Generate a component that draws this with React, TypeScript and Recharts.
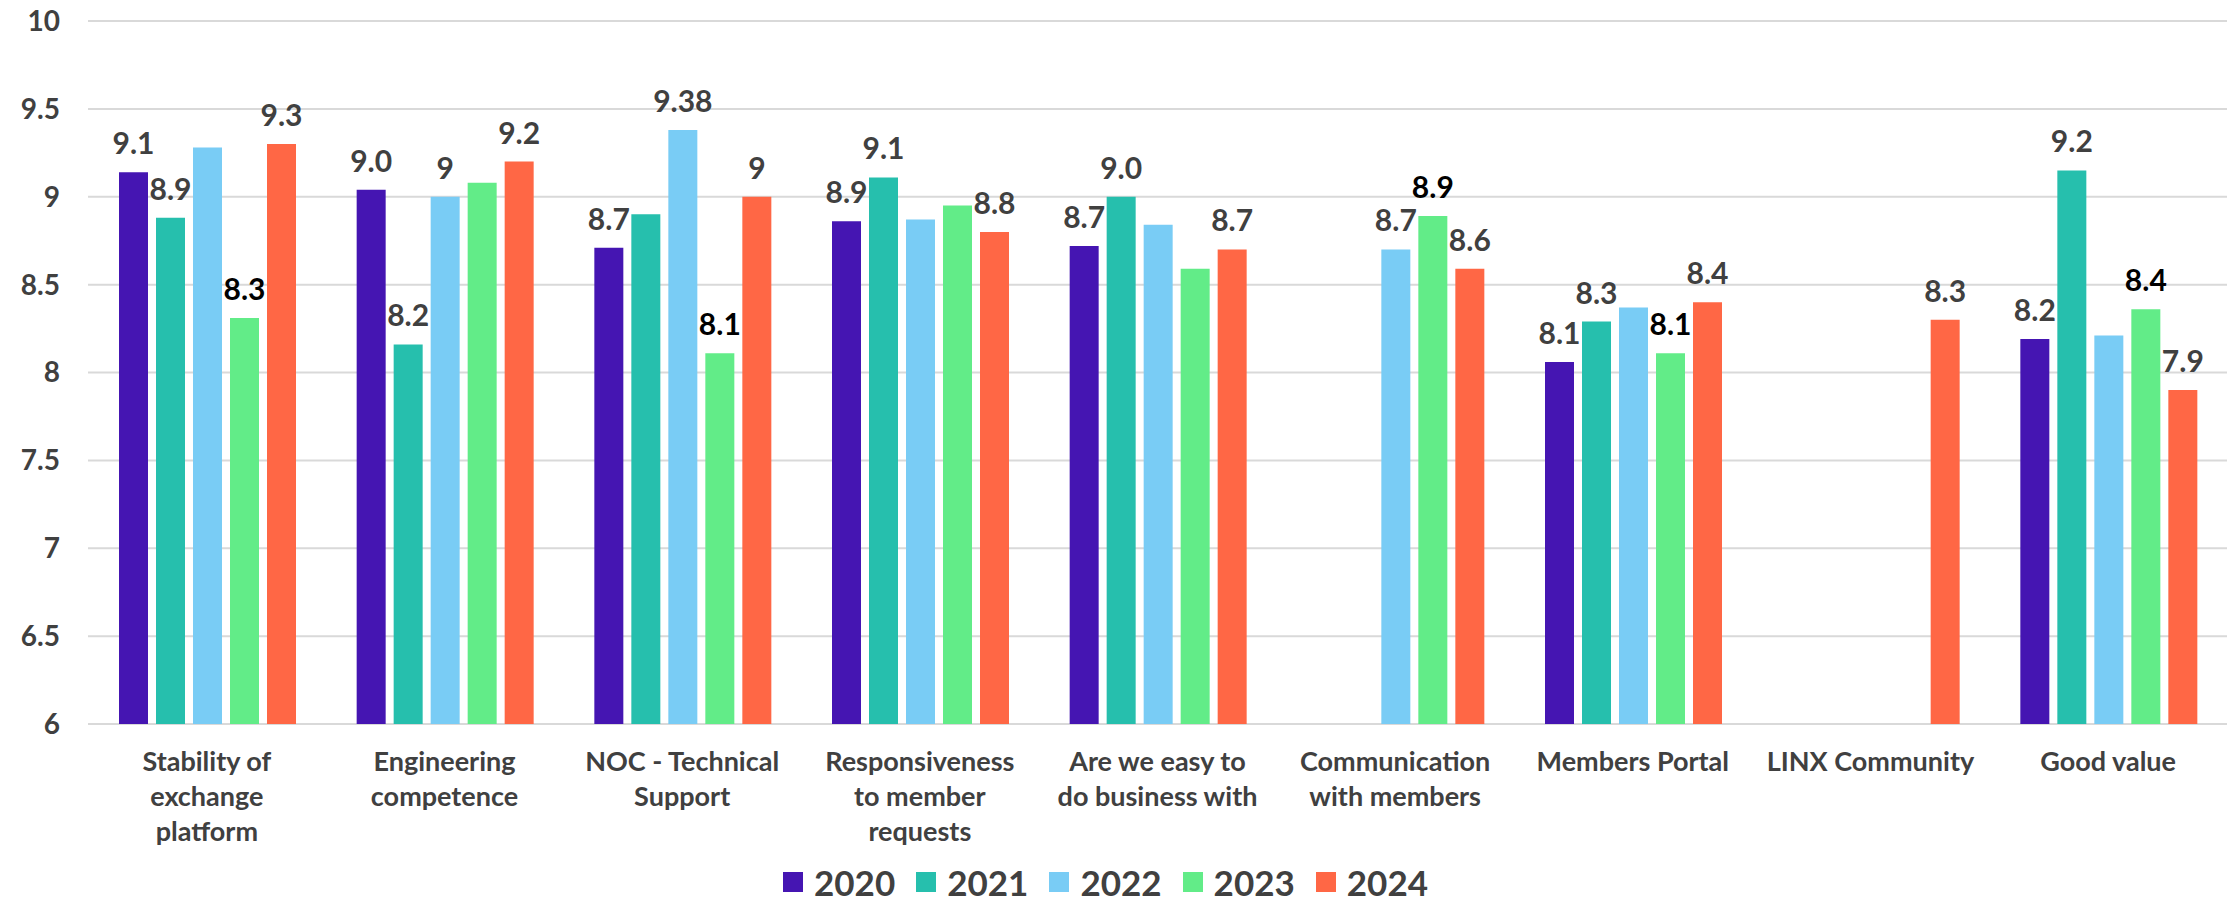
import React from "react";
import {Bar, BarChart, CartesianGrid, LabelList, Legend, XAxis, YAxis} from "recharts";

const categories = [
  "Stability of\nexchange\nplatform",
  "Engineering\ncompetence",
  "NOC - Technical\nSupport",
  "Responsiveness\nto member\nrequests",
  "Are we easy to\ndo business with",
  "Communication\nwith members",
  "Members Portal",
  "LINX Community",
  "Good value",
]

const years = ["2020", "2021", "2022", "2023", "2024"]

const values2020 = [9.14, 9.04, 8.71, 8.86, 8.72, null, 8.06, null, 8.19]
const values2021 = [8.88, 8.16, 8.90, 9.11, 9.00, null, 8.29, null, 9.15]
const values2022 = [9.28, 9.00, 9.38, 8.87, 8.84, 8.70, 8.37, null, 8.21]
const values2023 = [8.31, 9.08, 8.11, 8.95, 8.59, 8.89, 8.11, null, 8.36]
const values2024 = [9.30, 9.20, 9.00, 8.80, 8.70, 8.59, 8.40, 8.30, 7.90]

const labels2020 = ["9.1", "9.0", "8.7", "8.9", "8.7", "", "8.1", "", "8.2"]
const labels2021 = ["8.9", "8.2", "", "9.1", "9.0", "", "8.3", "", "9.2"]
const labels2022 = ["", "9", "9.38", "", "", "8.7", "", "", ""]
const labels2023 = ["8.3", "", "8.1", "", "", "8.9", "8.1", "", "8.4"]
const labels2024 = ["9.3", "9.2", "9", "8.8", "8.7", "8.6", "8.4", "8.3", "7.9"]

const yTicks = [6, 6.5, 7, 7.5, 8, 8.5, 9, 9.5, 10]

const seriesValues = [values2020, values2021, values2022, values2023, values2024]
const seriesLabels = [labels2020, labels2021, labels2022, labels2023, labels2024]
const colors = ["#4515B2", "#26BFAD", "#79CCF5", "#62EC88", "#FF6745"]
const labelColors = ["#404040", "#404040", "#404040", "#000000", "#404040"]

const FONT = "Lato, 'Open Sans', sans-serif"
const TEXT = "#404040"

// one row per category, value and label text for each year
const chartData = categories.map((name, i) => {
  const row: Record<string, string | number | null> = {name}
  years.forEach((y, s) => {
    row[y] = seriesValues[s][i]
    row["label" + y] = seriesLabels[s][i]
  })
  return row
})

function CategoryTick(props: any) {
  const {x, y, payload} = props
  const lines = String(payload.value).split("\n")
  return (
    <text x={x} y={y + 47} textAnchor="middle" fill={TEXT}
          style={{fontFamily: FONT, fontSize: 27, fontWeight: 700}}>
      {lines.map((line, i) => (
        <tspan key={i} x={x} dy={i === 0 ? 0 : 35}>{line}</tspan>
      ))}
    </text>
  )
}

function makeLabel(color: string) {
  return (props: any) => {
    const {x, y, width, value} = props
    if (!value) return null
    return (
      <text x={x + width / 2} y={y - 18} textAnchor="middle" fill={color}
            style={{fontFamily: FONT, fontSize: 30, fontWeight: 700}}>
        {value}
      </text>
    )
  }
}

function LegendBox(props: any) {
  const {payload} = props
  return (
    <div style={{height: 40, display: "flex", alignItems: "center", paddingLeft: 783}}>
      {(payload ?? []).map((item: any) => (
        <div key={item.value} style={{display: "flex", alignItems: "center", marginRight: 21}}>
          <div style={{width: 20, height: 20, background: item.color, marginRight: 11}}/>
          <span style={{fontFamily: FONT, fontSize: 35, fontWeight: 700, color: TEXT}}>{item.value}</span>
        </div>
      ))}
    </div>
  )
}

export default function App() {
  return (
    <div style={{position: "absolute", left: 0, top: 0, background: "#fff"}}>
      <BarChart width={2227} height={902} data={chartData}
                margin={{top: 21, right: 0, bottom: 0, left: 0}}
                barCategoryGap={31} barGap={8}>
        <CartesianGrid vertical={false} stroke="#D9D9D9" strokeWidth={2}/>
        <XAxis dataKey="name" height={138} axisLine={false} tickLine={false}
               tickSize={0} tickMargin={0} interval={0} tick={<CategoryTick/>}/>
        <YAxis width={88} domain={[6, 10]} ticks={yTicks} axisLine={false} tickLine={false}
               tickSize={0} tickMargin={28}
               tick={{fill: TEXT, fontSize: 28, fontWeight: 700, fontFamily: FONT}}/>
        <Legend verticalAlign="bottom" content={<LegendBox/>}/>
        {years.map((y, s) => (
          <Bar key={y} dataKey={y} fill={colors[s]} isAnimationActive={false}>
            <LabelList dataKey={"label" + y} content={makeLabel(labelColors[s])}/>
          </Bar>
        ))}
      </BarChart>
    </div>
  )
}
